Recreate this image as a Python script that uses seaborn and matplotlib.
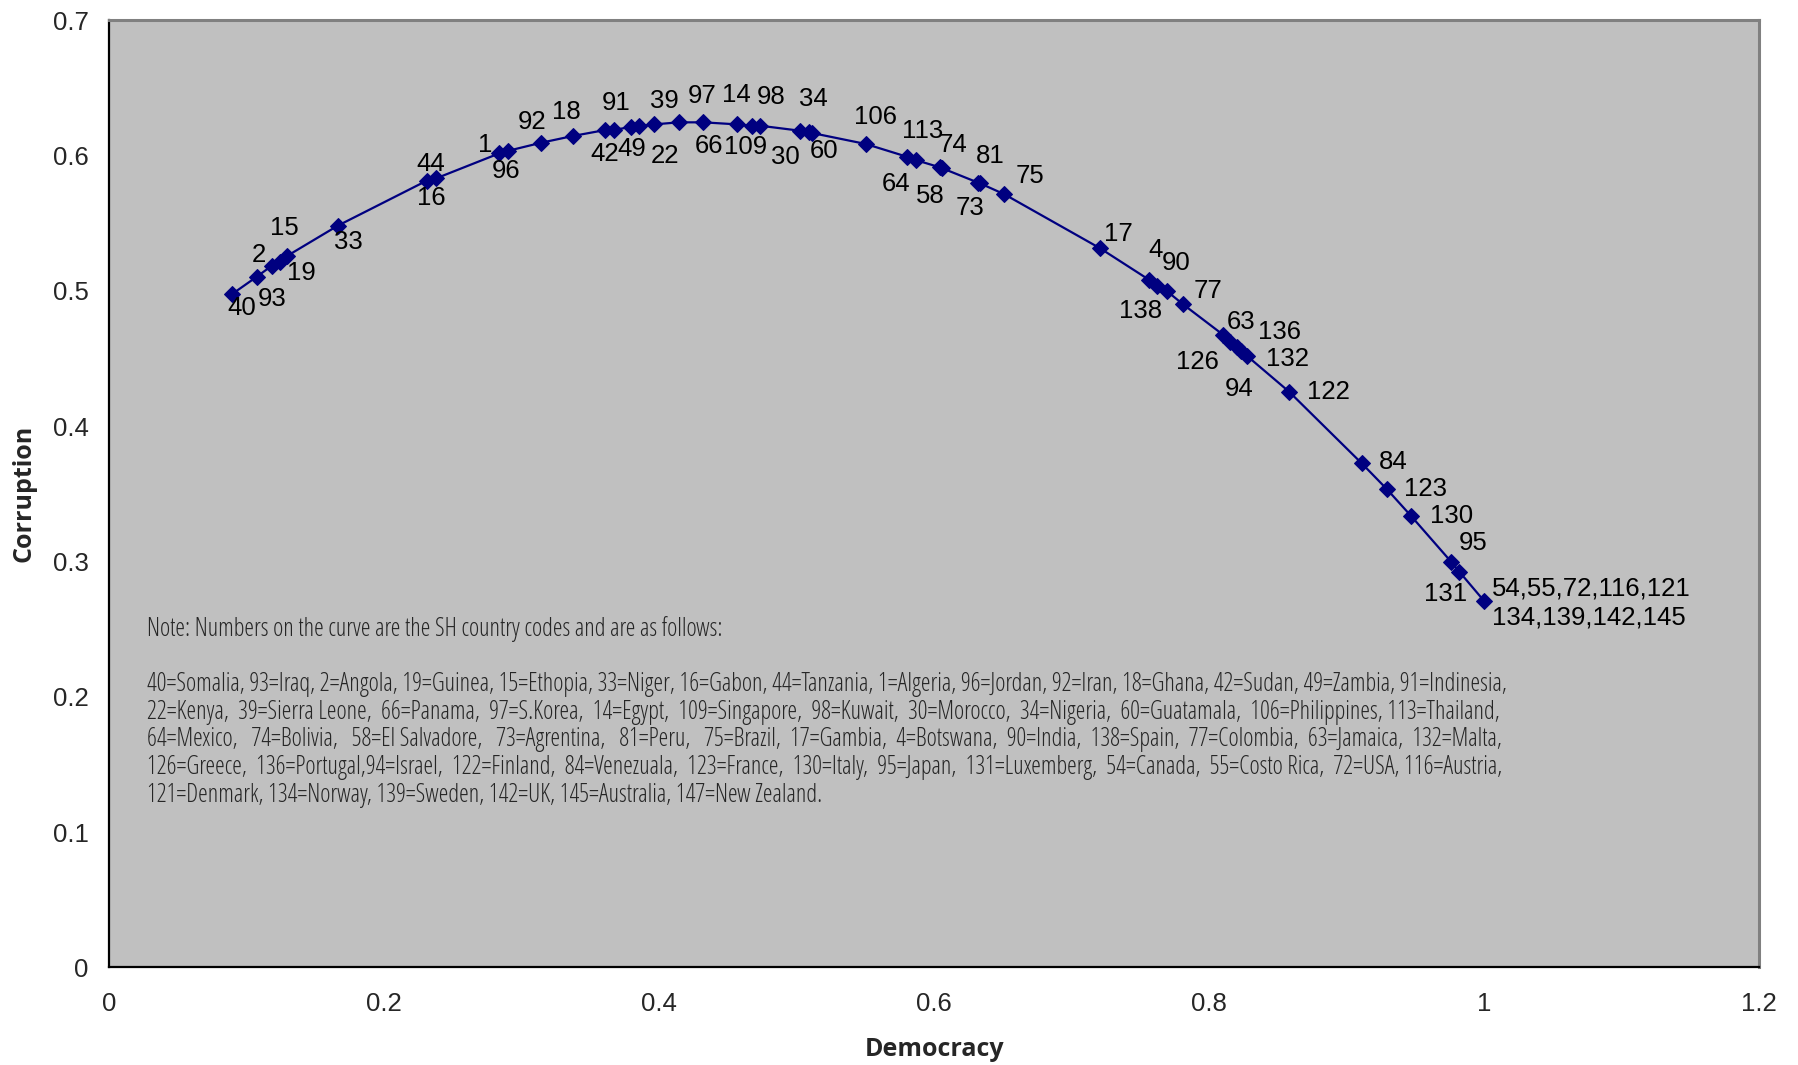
"""
Corruption vs democracy curve with SH country codes.
"""
import seaborn as sns
import pandas as pd
import matplotlib.pyplot as plt
from matplotlib import font_manager
from matplotlib.ticker import FuncFormatter, MultipleLocator

# SH country codes on the curve (ordered by democracy).
codes = ["40", "93", "2", "19", "15", "33", "16", "44", "1", "96", "92", "18",
         "42", "49", "91", "22", "39", "66", "97", "14", "109", "98", "30",
         "34", "60", "106", "113", "64", "74", "58", "73", "81", "75", "17",
         "4", "90", "138", "77", "63", "132", "126", "136", "94", "122", "84",
         "123", "130", "95", "131",
         "54,55,72,116,121\n134,139,142,145"]

democracy = [0.089, 0.1072, 0.1181, 0.1242, 0.1295, 0.1661, 0.2309, 0.2377,
             0.2837, 0.2902, 0.314, 0.3371, 0.3606, 0.3671, 0.3793, 0.3853,
             0.3965, 0.4142, 0.4321, 0.4564, 0.4673, 0.4733, 0.5024, 0.5092,
             0.5112, 0.5502, 0.5801, 0.5866, 0.6043, 0.606, 0.632, 0.6334,
             0.6511, 0.7207, 0.7565, 0.7623, 0.7692, 0.7808, 0.8104, 0.8152,
             0.8201, 0.8232, 0.8274, 0.8582, 0.911, 0.9292, 0.9469, 0.976,
             0.982, 1.0]

corruption = [0.4973, 0.5103, 0.5184, 0.5214, 0.5258, 0.548, 0.5813, 0.583,
              0.6015, 0.6034, 0.6093, 0.6143, 0.6187, 0.6187, 0.6211, 0.6217,
              0.6229, 0.6244, 0.6244, 0.6229, 0.6219, 0.6219, 0.6182, 0.617,
              0.6165, 0.6084, 0.599, 0.5965, 0.5911, 0.5904, 0.5798, 0.5793,
              0.5712, 0.5313, 0.5079, 0.5034, 0.4997, 0.4901, 0.4672, 0.4623,
              0.4581, 0.4554, 0.4519, 0.4253, 0.3724, 0.3534, 0.3335, 0.2997,
              0.2923, 0.2707]

note_lines = [
    "Note: Numbers on the curve are the SH country codes and are as follows:",
    "",
    "40=Somalia, 93=Iraq, 2=Angola, 19=Guinea, 15=Ethopia, 33=Niger, 16=Gabon, 44=Tanzania, 1=Algeria, 96=Jordan, 92=Iran, 18=Ghana, 42=Sudan, 49=Zambia, 91=Indinesia,",
    "22=Kenya, 39=Sierra Leone, 66=Panama, 97=S.Korea, 14=Egypt, 109=Singapore, 98=Kuwait, 30=Morocco, 34=Nigeria, 60=Guatamala, 106=Philippines, 113=Thailand,",
    "64=Mexico, 74=Bolivia, 58=El Salvadore, 73=Agrentina, 81=Peru, 75=Brazil, 17=Gambia, 4=Botswana, 90=India, 138=Spain, 77=Colombia, 63=Jamaica, 132=Malta,",
    "126=Greece, 136=Portugal,94=Israel, 122=Finland, 84=Venezuala, 123=France, 130=Italy, 95=Japan, 131=Luxemberg, 54=Canada, 55=Costo Rica, 72=USA, 116=Austria,",
    "121=Denmark, 134=Norway, 139=Sweden, 142=UK, 145=Australia, 147=New Zealand.",
]
justified = [3, 4, 5]

# Label placement relative to each marker (pixels, up is positive).
label_offsets = [(10, -14), (15, -22), (-13, 11), (21, -11), (-3, 28),
                 (11, -16), (5, -17), (-5, 14), (-14, 8), (-2, -20),
                 (-9, 21), (-6, 24), (0, -24), (18, -19), (-15, 24),
                 (26, -30), (10, 23), (30, -24), (-1, 26), (0, 29),
                 (-6, -21), (11, 29), (-15, -26), (4, 33), (12, -18),
                 (10, 27), (16, 26), (-20, -24), (13, 22), (-12, -28),
                 (-8, -25), (10, 27), (26, 18), (18, 14), (6, 30),
                 (19, 23), (-26, -20), (25, 13), (18, 13), (57, -17),
                 (-39, -15), (38, 19), (-8, -33), (39, 0), (31, 1),
                 (39, 0), (40, 0), (22, 19), (-14, -22), (8, -2)]


def pick_narrow():
    fonts = font_manager.fontManager.ttflist
    for f in fonts:
        if f.name == "Liberation Sans Narrow":
            return {"family": f.name}
    for fam in ["Noto Sans", "Open Sans", "Roboto", "Inter", "DejaVu Sans"]:
        for f in fonts:
            if f.name == fam and str(f.stretch) == "condensed":
                return {"family": fam, "fontstretch": f.stretch}
    for f in fonts:
        if "Condensed" in f.name or "Narrow" in f.name:
            return {"family": f.name}
    return {"family": "Liberation Sans"}


def main():
    df = pd.DataFrame({"democracy": democracy, "corruption": corruption,
                       "code": codes})

    sns.set_theme(style="white")
    plt.rcParams["font.family"] = ["Liberation Sans", "DejaVu Sans"]
    narrow = pick_narrow()

    fig = plt.figure(figsize=(17.99, 10.65), dpi=100)
    ax = fig.add_axes([0.0608, 0.0917, 0.9170, 0.8895])
    ax.set_facecolor("#C0C0C0")

    sns.lineplot(data=df, x="democracy", y="corruption", color="#000080",
                 marker="D", markersize=8, markeredgecolor="#000080",
                 linewidth=1.6, sort=False, estimator=None, ax=ax)

    # Country code labels.
    for i, row in df.iterrows():
        dx, dy = label_offsets[i]
        last = "\n" in row["code"]
        ax.annotate(row["code"], (row["democracy"], row["corruption"]),
                    xytext=(dx, dy), textcoords="offset pixels",
                    ha="left" if last else "center", va="center",
                    fontsize=18.5, color="black", linespacing=1.3)

    # Note block, sized so the longest line spans the same width.
    renderer = fig.canvas.get_renderer()
    target = 0.822 * ax.get_window_extent(renderer).width
    texts = []
    for k, line in enumerate(note_lines):
        t = ax.text(0.023, 0.3569 - k * 0.0292, line, transform=ax.transAxes,
                    fontsize=15.5, va="center", ha="left", **narrow)
        texts.append(t)
    w = texts[2].get_window_extent(renderer).width
    fs = 15.5 * target / w
    for t in texts:
        t.set_fontsize(fs)
    for k in justified:
        parts = note_lines[k].split(", ")
        gaps = [1] * (len(parts) - 1)
        j = 0
        while True:
            gaps[j % len(gaps)] += 1
            s = parts[0] + "".join("," + " " * g + p
                                   for g, p in zip(gaps, parts[1:]))
            texts[k].set_text(s)
            if texts[k].get_window_extent(renderer).width > target:
                gaps[j % len(gaps)] -= 1
                s = parts[0] + "".join("," + " " * g + p
                                       for g, p in zip(gaps, parts[1:]))
                texts[k].set_text(s)
                break
            j += 1

    ax.set_xlim(0, 1.2)
    ax.set_ylim(0, 0.7)
    ax.xaxis.set_major_locator(MultipleLocator(0.2))
    ax.yaxis.set_major_locator(MultipleLocator(0.1))
    fmt = FuncFormatter(lambda v, p: f"{v:g}")
    ax.xaxis.set_major_formatter(fmt)
    ax.yaxis.set_major_formatter(fmt)
    ax.tick_params(axis="both", which="major", direction="out", length=6,
                   width=1.2, color="black", labelsize=18.5)
    ax.tick_params(axis="x", pad=12)
    ax.tick_params(axis="y", pad=9)

    for side in ["left", "bottom"]:
        ax.spines[side].set_color("black")
        ax.spines[side].set_linewidth(1.6)
    for side in ["top", "right"]:
        ax.spines[side].set_color("#808080")
        ax.spines[side].set_linewidth(2.2)

    ax.set_xlabel("Democracy", fontsize=18, fontweight="bold", labelpad=15,
                  **narrow)
    ax.set_ylabel("Corruption", fontsize=18, fontweight="bold", labelpad=12,
                  **narrow)

    plt.savefig("out.png", dpi=100)


if __name__ == "__main__":
    main()
